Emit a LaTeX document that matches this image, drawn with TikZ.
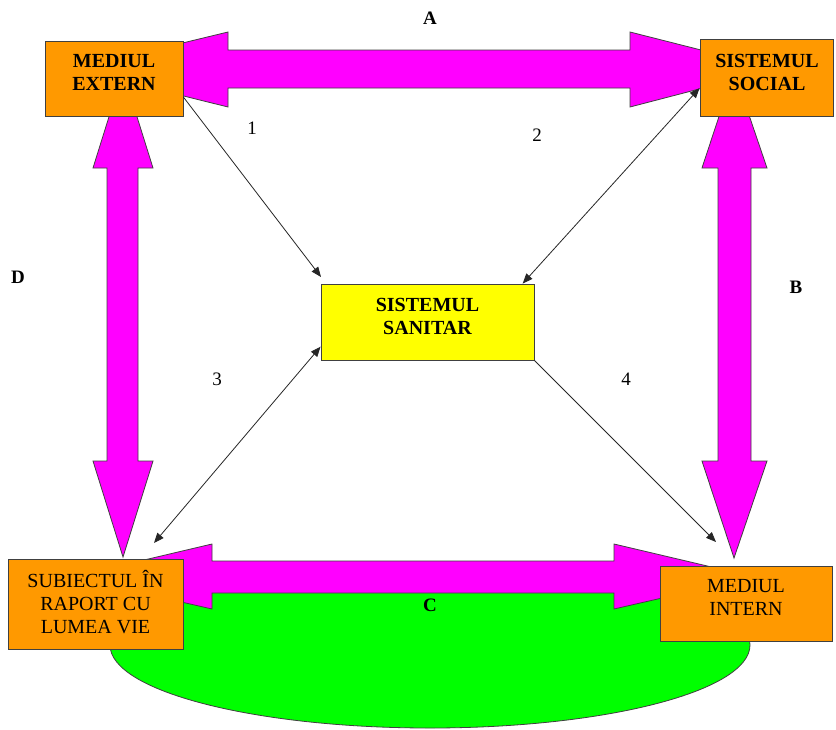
\documentclass[tikz,border=0pt]{standalone}
\usepackage{fontspec}
\setmainfont{Liberation Serif}
\usetikzlibrary{arrows.meta,calc}
\definecolor{orng}{HTML}{FF9900}
\definecolor{mag}{HTML}{FF00FF}
\definecolor{yel}{HTML}{FFFF00}
\definecolor{grn}{HTML}{00FF00}
\definecolor{edge}{HTML}{404040}
\tikzset{
  bigarrow/.style={draw=edge, line width=0.8pt, fill=mag, line join=miter},
  box/.style={draw=edge, line width=0.9pt, fill=orng, inner sep=0pt},
  txt/.style={align=center, inner sep=0pt, font=\fontsize{20}{23}\selectfont},
  btxt/.style={txt, font=\fontsize{20}{23}\selectfont\bfseries},
  lbl/.style={inner sep=0pt, font=\fontsize{19}{22}\selectfont},
  blbl/.style={inner sep=0pt, font=\fontsize{19}{22}\selectfont\bfseries},
  thin/.style={draw=black!85, line width=0.8pt},
  tip/.style={-{Triangle[length=10pt,width=8pt]}},
  tips/.style={{Triangle[length=10pt,width=8pt]}-{Triangle[length=10pt,width=8pt]}}
}
\begin{document}
\begin{tikzpicture}[x=1pt,y=-1pt]
\useasboundingbox (0,0) rectangle (836,729);
\fill[white] (0,0) rectangle (836,729);

% green ellipse
\draw[draw=edge, line width=0.8pt, fill=grn] (430,645) ellipse [x radius=320, y radius=83];

% big double arrows
% A (top)
\draw[bigarrow] (75,69) -- (228,32) -- (228,50) -- (630,50) -- (630,32) -- (776,69)
  -- (630,107) -- (630,88) -- (228,88) -- (228,107) -- cycle;
% C (bottom)
\draw[bigarrow] (72,577) -- (212,544) -- (212,561) -- (614,561) -- (614,544) -- (754,577)
  -- (614,609) -- (614,593) -- (212,593) -- (212,609) -- cycle;
% D (left)
\draw[bigarrow] (123,72) -- (153,168) -- (138,168) -- (138,461) -- (153,461) -- (123,557)
  -- (93,461) -- (107,461) -- (107,168) -- (93,168) -- cycle;
% B (right)
\draw[bigarrow] (734,71) -- (767,168) -- (751,168) -- (751,461) -- (767,461) -- (734,558)
  -- (702,461) -- (718,461) -- (718,168) -- (702,168) -- cycle;

% boxes
\node[box, minimum width=138pt, minimum height=75pt] (ME) at (114,78.5) {};
\node[box, minimum width=133pt, minimum height=77pt] (SS) at (766.5,77.5) {};
\node[box, fill=yel, minimum width=213pt, minimum height=76pt] (SAN) at (427.5,322) {};
\node[box, minimum width=175pt, minimum height=90pt] (SUB) at (95.5,604) {};
\node[box, minimum width=172pt, minimum height=75pt] (MI) at (746,603.5) {};

% box texts
\node[btxt] (MEt) at (114,72) {MEDIUL\\EXTERN};
\node[btxt] (SSt) at (767,72) {SISTEMUL\\SOCIAL};
\node[btxt] (SANt) at (427.5,316) {SISTEMUL\\SANITAR};
\node[txt] (SUBt) at (95.5,602) {SUBIECTUL ÎN\\RAPORT CU\\LUMEA VIE};
\node[txt] (MIt) at (746,597) {MEDIUL\\INTERN};

% free ends of connectors
\coordinate (c1) at (321,277);
\coordinate (c3) at (154,543);
\coordinate (c4) at (716,542);

% thin connectors
\draw[thin, tip] (ME.-15) -- (c1);
\draw[thin, tips] (SS.189) -- (SAN.22.5);
\draw[thin, tips] (SAN.193.7) -- (c3);
\draw[thin, tip] (SAN.south east) -- (c4);

% labels
\node[blbl] (lA) at (430,18) {A};
\node[blbl] (lB) at (796,287) {B};
\node[blbl] (lC) at (430,605) {C};
\node[blbl] (lD) at (18,277) {D};
\node[lbl] (l1) at (252,128) {1};
\node[lbl] (l2) at (537,135) {2};
\node[lbl] (l3) at (217,379) {3};
\node[lbl] (l4) at (626,379) {4};
\end{tikzpicture}
\end{document}
